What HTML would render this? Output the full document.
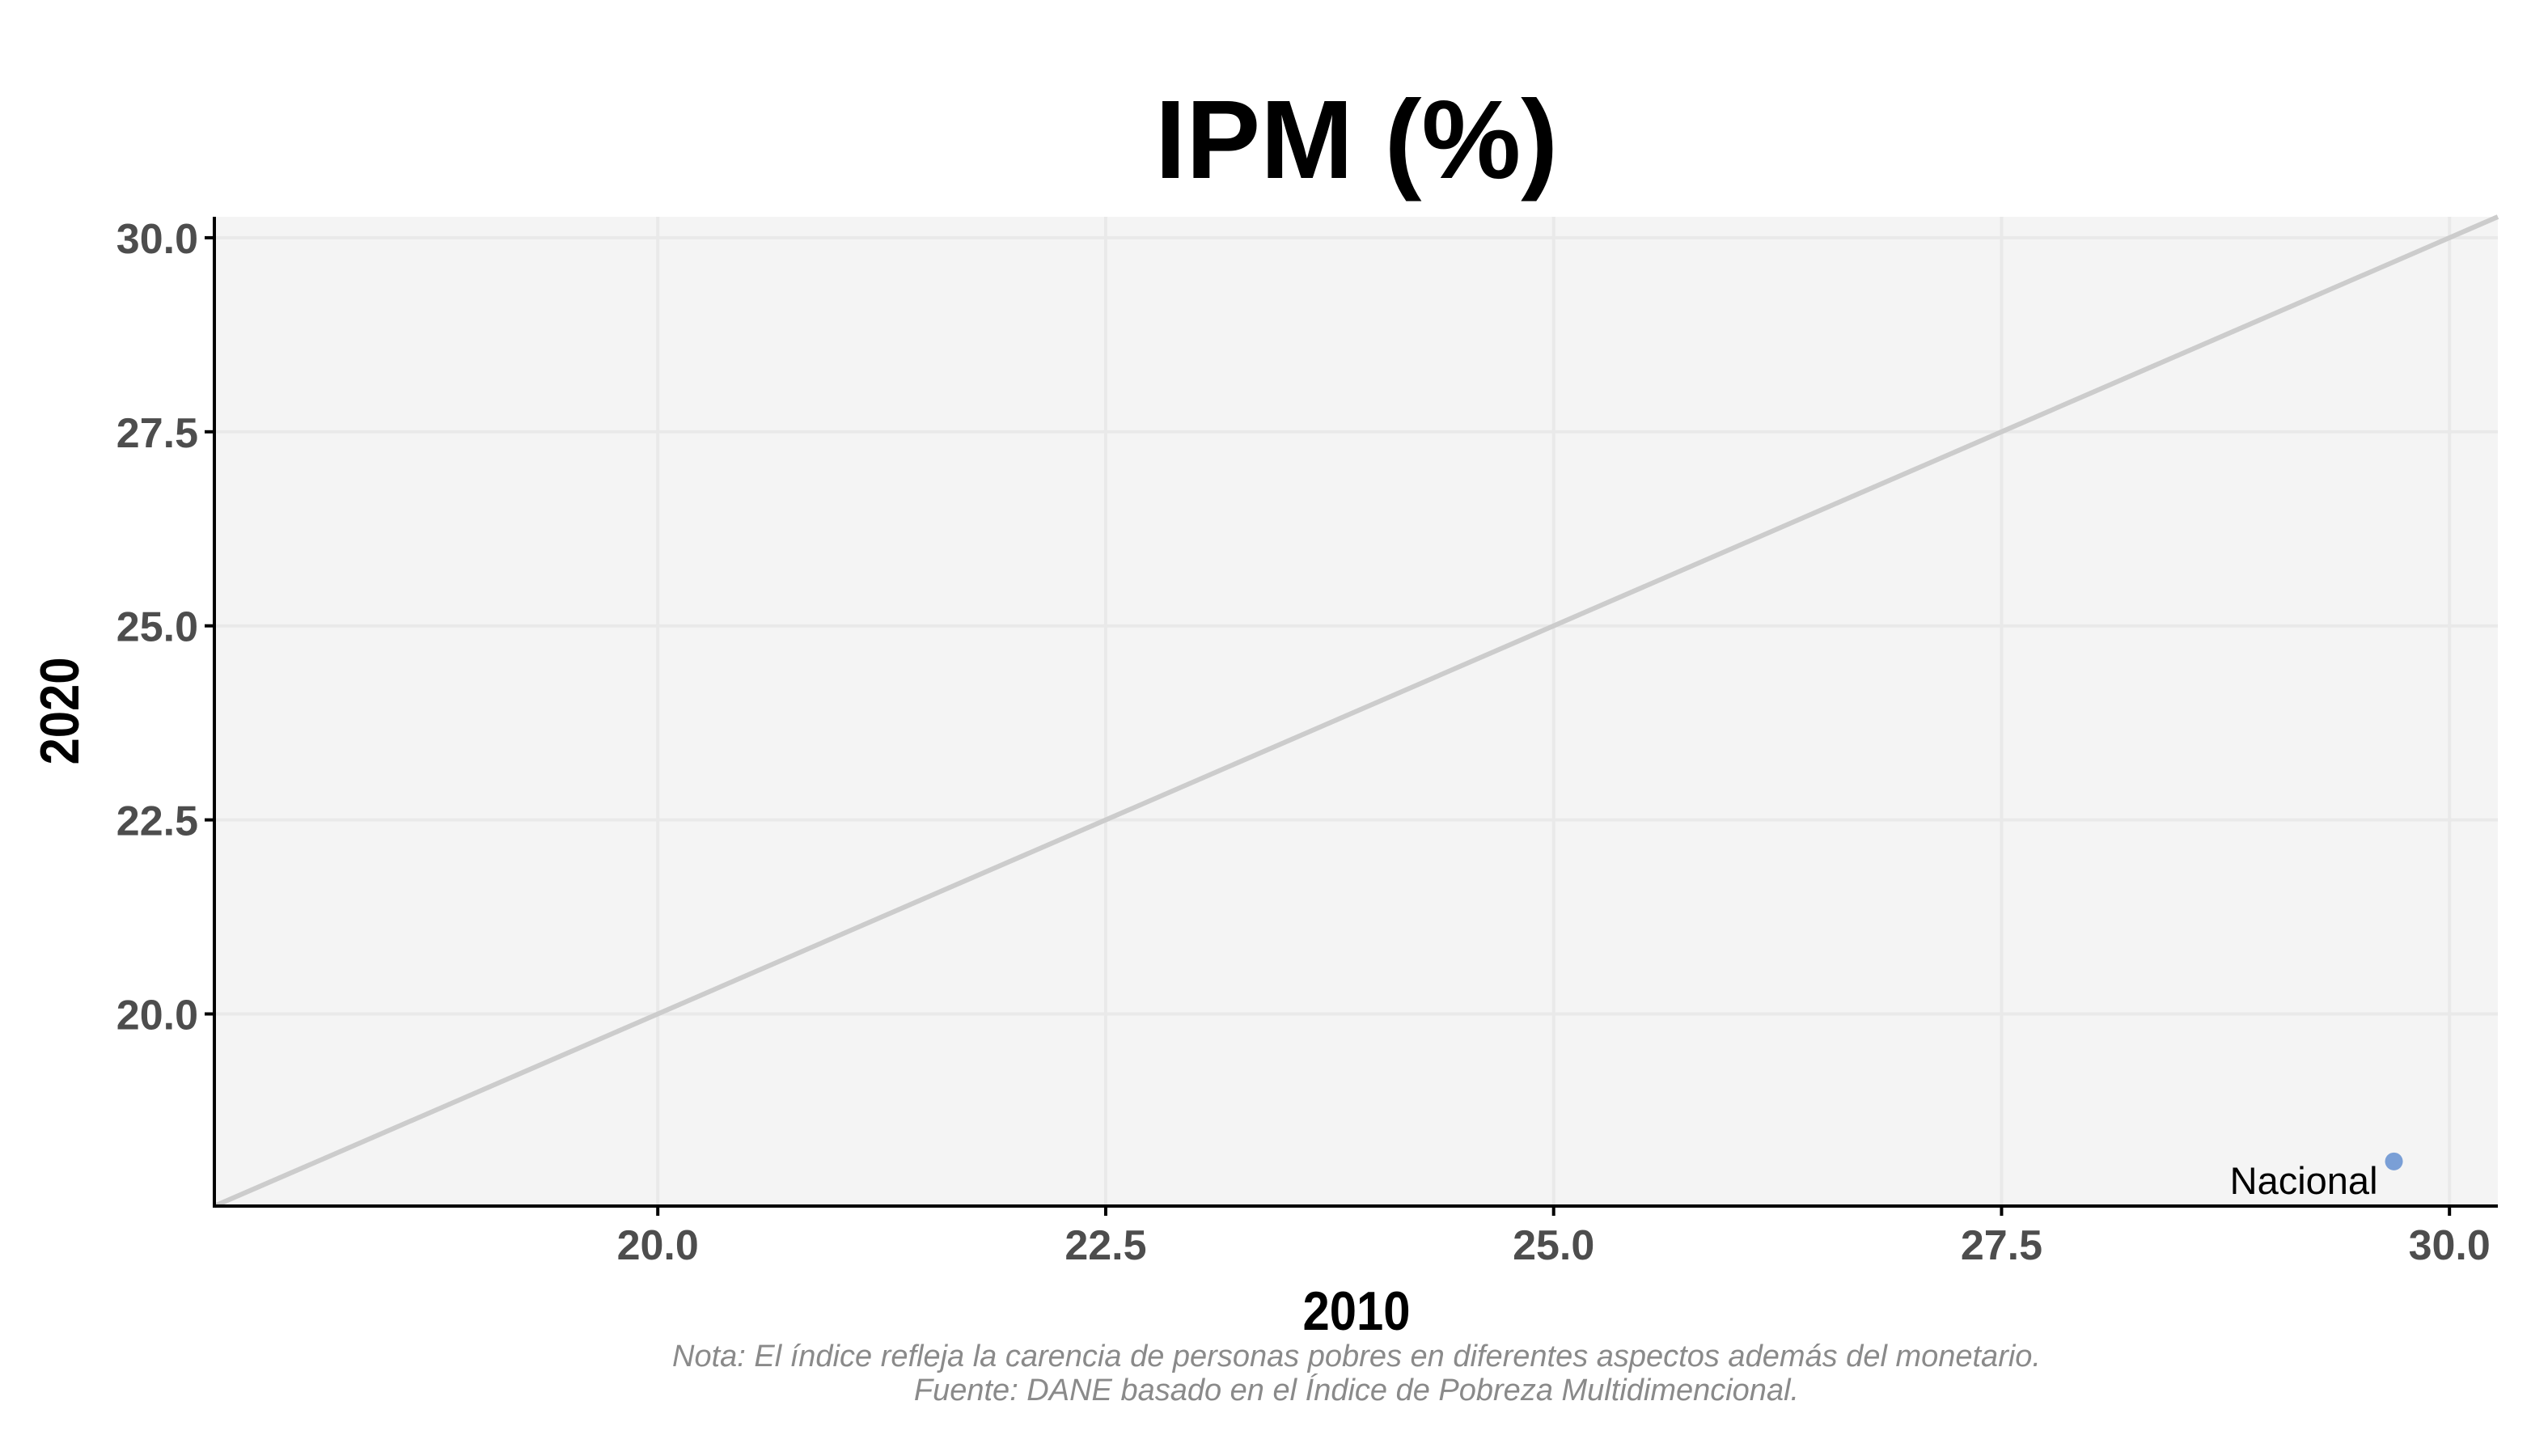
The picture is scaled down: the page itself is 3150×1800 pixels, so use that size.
<!DOCTYPE html>
<html><head><meta charset="utf-8"><style>
html,body{margin:0;padding:0;background:#fff;}
svg{display:block;}
</style></head><body>
<svg id="chart" width="3150" height="1800" xmlns="http://www.w3.org/2000/svg">
<rect width="3150" height="1800" fill="#fff"/>
<text x="1677" y="220" text-anchor="middle" font-family="Liberation Sans, sans-serif" font-weight="bold" font-size="138" fill="#000">IPM (%)</text>
<g id="plot"></g>
<text x="1677" y="1644" text-anchor="middle" font-family="Liberation Sans, sans-serif" font-weight="bold" font-size="68" fill="#000" transform="translate(1677,0) scale(0.88,1) translate(-1677,0)">2010</text>
<text x="0" y="0" text-anchor="middle" font-family="Liberation Sans, sans-serif" font-weight="bold" font-size="68" fill="#000" transform="translate(97,879) rotate(-90) scale(0.88,1)">2020</text>
<text x="1677" y="1689" text-anchor="middle" font-family="Liberation Sans, sans-serif" font-style="italic" font-size="38" fill="#8a8a8a">Nota: El índice refleja la carencia de personas pobres en diferentes aspectos además del monetario.</text>
<text x="1677" y="1731" text-anchor="middle" font-family="Liberation Sans, sans-serif" font-style="italic" font-size="38" fill="#8a8a8a">Fuente: DANE basado en el Índice de Pobreza Multidimencional.</text>
</svg>
<script>
const xTicks = [20.0, 22.5, 25.0, 27.5, 30.0];
const yTicks = [20.0, 22.5, 25.0, 27.5, 30.0];
const pointLabels = ["Nacional"];
const xValues = [29.69];
const yValues = [18.1];
const domainMin = 17.525, domainMax = 30.27;

const L=265, R=3088, T=268, B=1491;
const sx = v => L + (v-domainMin)/(domainMax-domainMin)*(R-L);
const sy = v => B - (v-domainMin)/(domainMax-domainMin)*(B-T);
const NS="http://www.w3.org/2000/svg";
const g=document.getElementById('plot');
function mk(tag, attrs){const e=document.createElementNS(NS,tag);for(const k in attrs)e.setAttribute(k,attrs[k]);g.appendChild(e);return e;}

let e=mk('rect',{x:L,y:T,width:R-L,height:B-T,fill:'#f4f4f4'});


xTicks.forEach(t=>{
  let l=mk('line',{x1:sx(t),x2:sx(t),y1:T,y2:B,stroke:'#e9e9e9','stroke-width':4});
  
  
});
yTicks.forEach(t=>{
  let l=mk('line',{x1:L,x2:R,y1:sy(t),y2:sy(t),stroke:'#e9e9e9','stroke-width':4});
  
  
});
e=mk('line',{x1:sx(domainMin),y1:sy(domainMin),x2:sx(domainMax),y2:sy(domainMax),stroke:'#cccccc','stroke-width':6});


xValues.forEach((v,i)=>{
  let c=mk('circle',{cx:sx(v),cy:sy(yValues[i]),r:11,fill:'#7a9fd6'});
  
  
  let t=mk('text',{x:sx(v)-20,y:sy(yValues[i])+40,'text-anchor':'end','font-family':'Liberation Sans, sans-serif','font-size':47,fill:'#000'});
  t.textContent=pointLabels[i];
  
  
});
e=mk('line',{x1:L,x2:L,y1:T,y2:B+2,stroke:'#000','stroke-width':4});


e=mk('line',{x1:L-2,x2:R,y1:B,y2:B,stroke:'#000','stroke-width':4});


xTicks.forEach(t=>{
  let l=mk('line',{x1:sx(t),x2:sx(t),y1:B,y2:B+12,stroke:'#000','stroke-width':4});
  
  
  let tx=mk('text',{x:sx(t),y:B+66,'text-anchor':'middle','font-family':'Liberation Sans, sans-serif','font-weight':'bold','font-size':52,fill:'#4d4d4d'});
  tx.textContent=t.toFixed(1);
  
  
});
yTicks.forEach(t=>{
  let l=mk('line',{x1:L-12,x2:L,y1:sy(t),y2:sy(t),stroke:'#000','stroke-width':4});
  
  
  let tx=mk('text',{x:L-20,y:sy(t)+19,'text-anchor':'end','font-family':'Liberation Sans, sans-serif','font-weight':'bold','font-size':52,fill:'#4d4d4d'});
  tx.textContent=t.toFixed(1);
  
  
});
</script>
</body></html>
